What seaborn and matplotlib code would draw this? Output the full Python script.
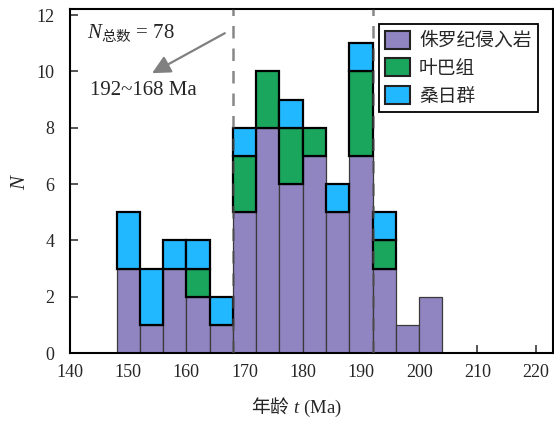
import numpy as np
import pandas as pd
import matplotlib
matplotlib.use('Agg')
import matplotlib.pyplot as plt
from matplotlib.patches import Patch
from matplotlib.colors import to_hex
import seaborn as sns

# counts per 4 Ma bin (left edge of bin)
bin_left = [148, 152, 156, 160, 164, 168, 172, 176, 180, 184, 188, 192, 196, 200]
jurassic = [3, 1, 3, 2, 1, 5, 8, 6, 7, 5, 7, 3, 1, 2]
yeba = [0, 0, 0, 1, 0, 2, 2, 2, 1, 0, 3, 1, 0, 0]
sangri = [2, 2, 1, 1, 1, 1, 0, 1, 0, 1, 1, 1, 0, 0]
groups = ['侏罗纪侵入岩', '叶巴组', '桑日群']
colors = ['#9084c1', '#1ba65e', '#22b8ff']
x_ticks = [140, 150, 160, 170, 180, 190, 200, 210, 220]
y_ticks = [0, 2, 4, 6, 8, 10, 12]
age_window = [168, 192]
bin_width = 4

rows = []
for name, counts in zip(groups, [jurassic, yeba, sangri]):
    for left, c in zip(bin_left, counts):
        rows.append({'age': left + bin_width / 2, 'group': name, 'count': c})
df = pd.DataFrame(rows)
edges = list(bin_left) + [bin_left[-1] + bin_width]

sns.set_style('ticks')
plt.rcParams['font.family'] = ['Liberation Serif', 'Noto Sans CJK SC']
plt.rcParams['mathtext.fontset'] = 'custom'
plt.rcParams['mathtext.it'] = 'Liberation Serif:italic'
plt.rcParams['mathtext.rm'] = 'Noto Sans CJK SC'

fig, ax = plt.subplots(figsize=(5.54, 4.23), dpi=100)
fig.subplots_adjust(left=70 / 554, right=553 / 554, bottom=1 - 353 / 423, top=1 - 9 / 423)

# purple at the bottom -> reversed hue order for the stack
sns.histplot(data=df, x='age', weights='count', hue='group', hue_order=groups[::-1],
             palette=dict(zip(groups, colors)), multiple='stack', bins=edges,
             alpha=1, legend=False, ax=ax)

# edge styles per group
for p in ax.patches:
    fc = to_hex(p.get_facecolor())
    if p.get_height() == 0:
        p.set_visible(False)
    elif fc == colors[0]:
        p.set_edgecolor('#3a3a3a')
        p.set_linewidth(0.9)
    else:
        p.set_edgecolor('black')
        p.set_linewidth(1.6)
        p.set_zorder(2.5)

for xv in age_window:
    ax.axvline(xv, color='#555555', alpha=0.7, lw=1.8, dashes=(5, 4), zorder=4)

ax.annotate('', xy=(154.1, 9.94), xytext=(166.6, 11.36),
            arrowprops=dict(arrowstyle='-|>,head_length=1.1,head_width=0.55',
                            color='#808080', lw=1.6, shrinkA=0, shrinkB=0))
ax.text(142.9, 11.36, r'$N_{\mathrm{总数}}$ = 78', fontsize=15, va='center', ha='left')
ax.text(143.4, 9.34, '192~168 Ma', fontsize=15, va='center', ha='left')

ax.set_xlim(140, 223)
ax.set_ylim(0, 12.22)
ax.set_xticks(x_ticks)
ax.set_yticks(y_ticks)
ax.tick_params(direction='in', length=6, width=1.1, labelsize=13)
ax.tick_params(axis='y', pad=11)
ax.tick_params(axis='x', pad=8)
for s in ax.spines.values():
    s.set_visible(True)
    s.set_linewidth(1.5)
    s.set_color('black')

ax.set_xlabel(r'$\mathrm{年龄}$ $t$ (Ma)', fontsize=13.5)
ax.xaxis.set_label_coords(0.468, -0.125)
ax.set_ylabel('$N$', fontsize=15)
ax.yaxis.set_label_coords(-0.083, 0.5)

handles = [Patch(facecolor=c, edgecolor='#222222', lw=1.5) for c in colors]
leg = ax.legend(handles, groups, loc='upper right', fontsize=13.5, frameon=True,
                fancybox=False, edgecolor='black', framealpha=1, borderaxespad=0.8,
                handlelength=1.3, handleheight=1.1, handletextpad=0.5, labelspacing=0.45,
                borderpad=0.35)
leg.get_frame().set_linewidth(1.3)

plt.savefig('out.png', dpi=100)
plt.close()
